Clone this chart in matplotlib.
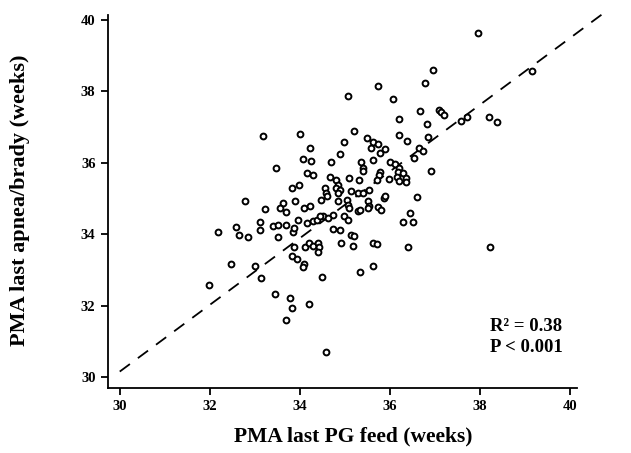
import matplotlib
matplotlib.use("Agg")
import matplotlib.pyplot as plt

# PMA at last PG feed (weeks)
pg_feed = [
    33.17, 34.00, 34.22, 34.06, 34.24, 33.47, 34.15, 34.29, 33.83, 33.98,
    32.79, 33.23, 33.63, 33.56, 33.70, 33.89, 34.10, 34.22,
    33.96, 34.15, 34.29, 34.39, 33.11, 33.11, 32.59, 32.64, 32.85, 32.18,
    33.40, 33.51, 33.69, 33.85, 33.51, 33.88, 34.11, 34.20, 34.29, 34.40,
    34.43, 34.40, 33.82, 33.93, 34.10, 34.07, 32.48, 33.00, 31.99, 33.14,
    33.44, 33.78, 34.20, 33.83, 33.69, 34.50, 34.59, 33.88,
    36.06, 36.66, 36.19, 36.83, 35.21, 36.19, 36.38, 36.85, 34.98, 35.50,
    35.62, 35.73, 35.59, 35.79, 35.90, 36.64, 36.74, 36.53, 34.88, 34.68,
    35.35, 35.40, 35.40, 35.62, 36.00, 36.12, 36.20, 36.17, 36.28, 36.16,
    36.35, 36.20, 36.35, 36.91, 35.78, 35.76, 35.72, 35.97, 35.08, 35.32,
    34.66, 34.80, 34.85, 34.80, 34.88, 34.85, 34.55, 34.59, 34.61, 35.13,
    35.29, 35.40, 35.54, 35.87, 35.90, 36.60, 34.46, 34.85, 35.05, 35.07,
    35.10, 35.28, 35.34, 35.51, 35.54, 35.51, 35.73, 35.81, 34.74, 34.52,
    34.63, 34.99, 35.07, 34.74, 34.88, 36.28, 36.52, 36.44, 34.44,
    35.14, 35.21, 34.92, 35.19, 35.62, 35.72, 36.41, 35.62, 35.33,
    37.95, 37.58, 37.70, 38.20, 38.38, 39.15, 38.22, 37.08, 37.14, 37.21,
    35.07, 35.73, 36.78, 36.96,
]

# PMA at last apnea/bradycardia (weeks)
apnea = [
    36.75, 36.80, 36.42, 36.11, 36.05, 35.86, 35.70, 35.65, 35.30, 35.37,
    34.92, 34.71, 34.88, 34.72, 34.62, 34.92, 34.74, 34.78,
    34.41, 34.31, 34.36, 34.41, 34.33, 34.12, 34.20, 33.98, 33.92, 34.05,
    34.22, 34.27, 34.27, 34.07, 33.92, 33.64, 33.64, 33.74, 33.68, 33.75,
    33.64, 33.49, 33.40, 33.31, 33.17, 33.08, 33.15, 33.12, 32.58, 32.77,
    32.32, 32.21, 32.05, 31.93, 31.60, 32.80, 30.71, 34.18,
    37.78, 37.45, 37.24, 37.10, 36.89, 36.77, 36.60, 36.73, 36.58, 36.70,
    36.58, 36.52, 36.42, 36.28, 36.38, 36.40, 36.33, 36.14, 36.24, 36.02,
    36.02, 35.86, 35.77, 36.08, 36.02, 35.96, 35.86, 35.74, 35.70, 35.61,
    35.58, 35.49, 35.46, 35.77, 35.74, 35.65, 35.53, 35.55, 35.58, 35.53,
    35.61, 35.53, 35.39, 35.30, 35.25, 35.16, 35.30, 35.16, 35.06, 35.20,
    35.16, 35.16, 35.25, 35.02, 35.06, 35.05, 34.97, 34.92, 34.97, 34.83,
    34.74, 34.64, 34.67, 34.92, 34.80, 34.74, 34.77, 34.67, 34.55, 34.52,
    34.46, 34.52, 34.41, 34.15, 34.13, 34.33, 34.33, 34.60, 34.50,
    33.99, 33.96, 33.75, 33.66, 33.75, 33.73, 33.64, 33.10, 32.95,
    39.64, 37.17, 37.29, 37.29, 37.14, 38.56, 33.64, 37.48, 37.42, 37.34,
    37.87, 38.15, 38.24, 38.60,
]

x_ticks = [30, 32, 34, 36, 38, 40]
y_ticks = [30, 32, 34, 36, 38, 40]
line_x = [30.0, 40.7]
line_y = [30.15, 40.15]

serif = ["Liberation Serif", "DejaVu Serif"]

fig = plt.figure(figsize=(6.31, 4.53), dpi=100)
ax = fig.add_axes([0.1712, 0.1435, 0.743, 0.8234])

ax.plot(line_x, line_y, color="black", lw=1.3, dashes=(7, 5.5), clip_on=False)
ax.plot(pg_feed, apnea, "o", mfc="white", mec="black", ms=4.2, mew=1.4,
        linestyle="none")

ax.set_xlim(29.74, 40.15)
ax.set_ylim(29.69, 40.14)
ax.set_xticks(x_ticks)
ax.set_yticks(y_ticks)

for side in ["top", "right"]:
    ax.spines[side].set_visible(False)
for side in ["left", "bottom"]:
    ax.spines[side].set_linewidth(1.3)

ax.tick_params(direction="out", length=5, width=1.3, pad=4)
for lab in ax.get_xticklabels() + ax.get_yticklabels():
    lab.set_fontfamily(serif)
    lab.set_fontweight("bold")
    lab.set_fontsize(10.5)

ax.set_xlabel("PMA last PG feed (weeks)", fontsize=15.5, fontweight="bold",
              family=serif, va="center")
ax.xaxis.set_label_coords(0.522, -0.131)
ax.set_ylabel("PMA last apnea/brady (weeks)", fontsize=16, fontweight="bold",
              family=serif, va="center")
ax.yaxis.set_label_coords(-0.188, 0.504)

ax.text(38.22, 31.42, "R² = 0.38", fontsize=13.5, fontweight="bold",
        family=serif, va="center")
ax.text(38.22, 30.82, "P < 0.001", fontsize=13.5, fontweight="bold",
        family=serif, va="center")

fig.savefig("out.png", dpi=100)
